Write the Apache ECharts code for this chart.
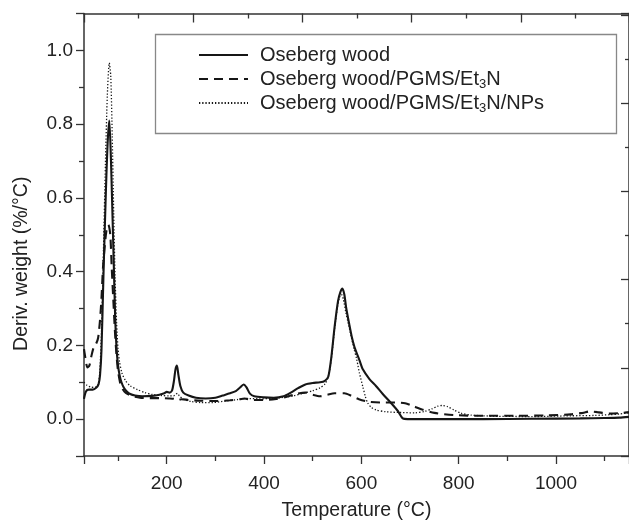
<!DOCTYPE html>
<html><head><meta charset="utf-8">
<script src="https://cdn.jsdelivr.net/npm/echarts/dist/echarts.min.js"></script>
<style>html,body{margin:0;padding:0;background:#fff}#c{width:629px;height:526px}</style>
</head><body><div id="c"></div>
<script>
const seriesNames = ['Oseberg wood', 'Oseberg wood/PGMS/Et3N', 'Oseberg wood/PGMS/Et3N/NPs'];

const woodTemp = [30,34,40,48,55,60,63,66,70,73,76,79,82,85,88,91,94,97,100,103,107,112,118,125,135,150,170,185,195,200,206,211,215,218,221,224,228,234,245,260,280,300,315,330,342,350,358,364,371,380,400,420,440,455,470,485,500,515,525,532,538,545,552,557,561,565,569,575,580,586,596,603,617,630,644,660,675,685,695,750,850,950,1050,1100,1130,1150];
const woodDeriv = [0.055,0.075,0.08,0.08,0.085,0.095,0.12,0.19,0.39,0.53,0.66,0.76,0.81,0.72,0.58,0.43,0.28,0.19,0.145,0.12,0.1,0.085,0.075,0.068,0.064,0.062,0.063,0.066,0.07,0.074,0.072,0.078,0.105,0.135,0.145,0.12,0.09,0.072,0.064,0.058,0.056,0.058,0.064,0.07,0.076,0.085,0.094,0.086,0.069,0.062,0.059,0.058,0.062,0.072,0.084,0.094,0.098,0.1,0.104,0.115,0.165,0.25,0.32,0.345,0.354,0.338,0.3,0.258,0.225,0.195,0.16,0.135,0.108,0.09,0.068,0.045,0.022,0.002,0.0,0.0,0.0,0.001,0.002,0.003,0.004,0.006];

const pgmsTemp = [30,33,37,41,45,50,55,59,63,66,69,72,76,80,84,87,90,93.5,97,100,104,108,113,120,130,145,165,185,205,215,222,230,245,270,300,330,350,360,375,400,425,445,465,485,500,515,530,545,565,580,595,615,640,670,690,705,725,750,790,850,920,980,1030,1055,1070,1085,1110,1130,1150];
const pgmsDeriv = [0.19,0.165,0.14,0.145,0.17,0.195,0.205,0.22,0.27,0.33,0.41,0.46,0.51,0.527,0.5,0.41,0.33,0.24,0.17,0.13,0.1,0.085,0.075,0.068,0.062,0.058,0.057,0.057,0.056,0.055,0.051,0.054,0.052,0.05,0.049,0.051,0.054,0.056,0.052,0.052,0.055,0.06,0.068,0.072,0.066,0.062,0.066,0.07,0.07,0.063,0.054,0.047,0.045,0.045,0.043,0.036,0.026,0.017,0.011,0.009,0.009,0.01,0.013,0.017,0.021,0.019,0.015,0.016,0.019];

const npsTemp = [30,36,44,52,58,62,66,70,74,78,82,85,88,91,94,97,100,103,108,115,125,140,155,170,190,205,214,219,222,226,235,250,270,295,320,345,365,390,415,440,460,480,500,515,525,532,538,545,551,555,559,563,568,573,579,585,590,596,603,608,613,620,630,650,680,710,730,745,757,767,777,790,805,825,870,950,1030,1080,1110,1130,1150];
const npsDeriv = [0.1,0.092,0.087,0.086,0.09,0.12,0.24,0.46,0.69,0.88,0.966,0.93,0.77,0.56,0.38,0.26,0.19,0.155,0.125,0.105,0.09,0.08,0.072,0.067,0.064,0.063,0.063,0.068,0.07,0.063,0.054,0.048,0.045,0.045,0.049,0.053,0.056,0.055,0.056,0.059,0.063,0.07,0.077,0.085,0.095,0.115,0.16,0.245,0.305,0.33,0.338,0.325,0.29,0.26,0.225,0.19,0.165,0.125,0.088,0.062,0.044,0.032,0.025,0.02,0.018,0.017,0.021,0.028,0.035,0.037,0.034,0.025,0.016,0.011,0.008,0.007,0.009,0.01,0.012,0.014,0.017];

const FONT = '"Liberation Sans", Arial, Helvetica, sans-serif';
const AX = '#333';
const TXT = '#222';
const LINE = '#161616';

function zip(a, b) { return a.map((t, i) => [t, b[i]]); }

const chart = echarts.init(document.getElementById('c'), null, {renderer: 'canvas'});
const tickStyle = {color: AX, width: 1.3};
const option = {
  animation: false,
  backgroundColor: '#fff',
  textStyle: {fontFamily: FONT},
  grid: {left: 84, top: 13.5, width: 546, height: 446.4},
  xAxis: [{
    type: 'value', min: 30, max: 1150, position: 'bottom', splitNumber: 5,
    axisLine: {show: true, onZero: false, lineStyle: {color: AX, width: 1.5}},
    axisTick: {show: true, inside: false, length: 8, lineStyle: tickStyle},
    minorTick: {show: true, splitNumber: 2, length: 5, lineStyle: tickStyle},
    axisLabel: {show: true, margin: 18, fontSize: 19, color: TXT, fontFamily: FONT,
      showMinLabel: false, showMaxLabel: false, formatter: v => String(v)},
    splitLine: {show: false}, minorSplitLine: {show: false},
    name: 'Temperature (°C)', nameLocation: 'middle', nameGap: 45,
    nameTextStyle: {fontSize: 19.5, color: TXT, fontFamily: FONT}
  }, {
    type: 'value', min: 0, max: 9.98, interval: 2, position: 'top',
    axisLine: {show: true, onZero: false, lineStyle: {color: AX, width: 1.5}},
    axisTick: {show: true, inside: true, length: 9, lineStyle: tickStyle},
    minorTick: {show: true, splitNumber: 2, length: 5, lineStyle: tickStyle},
    axisLabel: {show: false}, splitLine: {show: false}
  }],
  yAxis: [{
    type: 'value', min: -0.1, max: 1.1, splitNumber: 6,
    axisLine: {show: true, onZero: false, lineStyle: {color: AX, width: 1.5}},
    axisTick: {show: true, inside: false, length: 8, lineStyle: tickStyle},
    minorTick: {show: true, splitNumber: 2, length: 5, lineStyle: tickStyle},
    axisLabel: {show: true, margin: 11, fontSize: 19, color: TXT, fontFamily: FONT,
      showMinLabel: false, showMaxLabel: false, formatter: v => v.toFixed(1)},
    splitLine: {show: false},
    name: 'Deriv. weight (%/°C)', nameLocation: 'middle', nameGap: 52,
    nameTextStyle: {fontSize: 19.5, color: TXT, fontFamily: FONT, padding: [0, 58, 0, 0]}
  }, {
    type: 'value', min: 0, max: 10.03, interval: 2, position: 'right',
    axisLine: {show: true, onZero: false, lineStyle: {color: AX, width: 1.5}},
    axisTick: {show: true, inside: true, length: 8, lineStyle: tickStyle},
    minorTick: {show: true, splitNumber: 2, length: 4, lineStyle: tickStyle},
    axisLabel: {show: false}, splitLine: {show: false}
  }],
  legend: {
    data: seriesNames, orient: 'vertical', left: 198, top: 43, padding: 0,
    itemWidth: 49, itemHeight: 14, itemGap: 0, selectedMode: false,
    itemStyle: {opacity: 0, borderWidth: 0},
    formatter: n => n.replace('Et3N', 'Et{s|3}N'),
    textStyle: {fontSize: 20, color: TXT, fontFamily: FONT, lineHeight: 24, padding: [0, 0, 0, 7],
      rich: {s: {fontSize: 13, lineHeight: 14, padding: [10, 0, 0, 0], color: TXT, fontFamily: FONT}}}
  },
  graphic: [{
    type: 'rect', left: 153, top: 32, silent: true,
    shape: {width: 461, height: 99},
    style: {fill: 'none', stroke: '#888', lineWidth: 1.3}
  }],
  series: [
    {name: seriesNames[0], type: 'line', data: zip(woodTemp, woodDeriv), showSymbol: false, symbol: 'none',
      smooth: 0.25, lineStyle: {color: LINE, width: 2.1, type: 'solid'}, itemStyle: {color: LINE}, z: 4},
    {name: seriesNames[1], type: 'line', data: zip(pgmsTemp, pgmsDeriv), showSymbol: false, symbol: 'none',
      smooth: 0.25, lineStyle: {color: LINE, width: 2.1, type: [9, 6]}, itemStyle: {color: LINE}, z: 3},
    {name: seriesNames[2], type: 'line', data: zip(npsTemp, npsDeriv), showSymbol: false, symbol: 'none',
      smooth: 0.25, lineStyle: {color: LINE, width: 1.3, type: [1.3, 1.9]}, itemStyle: {color: LINE}, z: 2}
  ]
};
chart.setOption(option);
</script></body></html>
